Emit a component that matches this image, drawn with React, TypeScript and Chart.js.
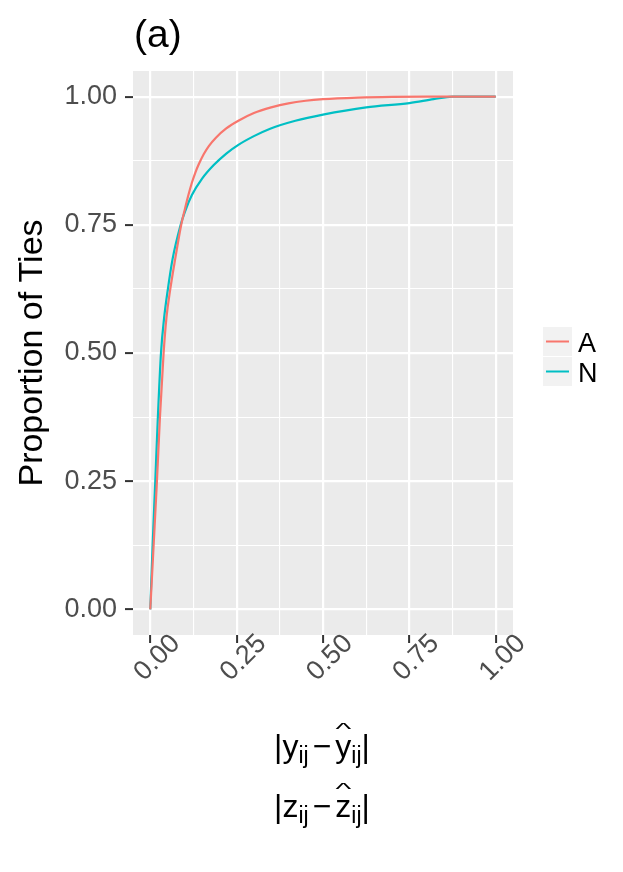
import React, { useEffect, useRef } from "react";
import { Chart, registerables } from "chart.js";

Chart.register(...registerables);

// ---- Data ----
const seriesNames = ["A", "N"];
const seriesColors = ["#F8766D", "#00BFC4"];

const xA = [0, 0.0097, 0.0193, 0.028, 0.0386, 0.047, 0.058, 0.0723, 0.0896, 0.1, 0.11, 0.12, 0.13, 0.14, 0.155, 0.17, 0.19, 0.22, 0.255, 0.3, 0.35, 0.4, 0.45, 0.5, 0.6, 0.7, 0.8, 1.0];
const yA = [0, 0.125, 0.25, 0.375, 0.5, 0.57, 0.625, 0.684, 0.75, 0.78, 0.807, 0.831, 0.851, 0.8675, 0.888, 0.904, 0.92, 0.938, 0.953, 0.968, 0.979, 0.987, 0.992, 0.995, 0.998, 0.9995, 1.0, 1.0];

const xN = [0, 0.0068, 0.0145, 0.022, 0.031, 0.04, 0.05, 0.0645, 0.088, 0.1, 0.1205, 0.15, 0.183, 0.22, 0.255, 0.3, 0.347, 0.42, 0.5, 0.625, 0.75, 0.82, 0.875, 1.0];
const yN = [0, 0.125, 0.25, 0.375, 0.5, 0.568, 0.62, 0.683, 0.75, 0.775, 0.808, 0.84, 0.866, 0.889, 0.906, 0.923, 0.9375, 0.953, 0.965, 0.979, 0.9875, 0.995, 1.0, 1.0];

const majorTickValues = [0, 0.25, 0.5, 0.75, 1];
const majorTickLabels = ["0.00", "0.25", "0.50", "0.75", "1.00"];
const gridValues = [0, 0.125, 0.25, 0.375, 0.5, 0.625, 0.75, 0.875, 1];

const plotTitle = "(a)";
const yTitle = "Proportion of Ties";

const FF = '"Liberation Sans", Arial, Helvetica, sans-serif';

const isMajor = (v: number | undefined) =>
  v !== undefined && majorTickValues.some((m) => Math.abs(m - v) < 1e-9);

type Piece = { t: string; size: number; dy?: number; hat?: boolean; padL?: number; padR?: number };

function drawMathLine(ctx: CanvasRenderingContext2D, pieces: Piece[], cx: number, baseline: number) {
  let total = 0;
  const widths = pieces.map((p) => {
    ctx.font = `${p.size}px ${FF}`;
    const w = ctx.measureText(p.t).width + (p.padL || 0) + (p.padR || 0);
    total += w;
    return w;
  });
  let x = cx - total / 2;
  pieces.forEach((p, i) => {
    ctx.font = `${p.size}px ${FF}`;
    ctx.textAlign = "left";
    ctx.textBaseline = "alphabetic";
    const gx = x + (p.padL || 0);
    ctx.fillText(p.t, gx, baseline + (p.dy || 0));
    if (p.hat) {
      const gw = ctx.measureText(p.t).width;
      ctx.save();
      ctx.translate(gx + gw / 2, baseline - 22.6);
      ctx.scale(1.05, 0.52);
      ctx.textAlign = "center";
      ctx.fillText("^", 0, 0);
      ctx.restore();
    }
    x += widths[i];
  });
}

const decorPlugin = {
  id: "decor",
  beforeDraw(chart: any) {
    const { ctx, chartArea } = chart;
    ctx.save();
    ctx.fillStyle = "#FFFFFF";
    ctx.fillRect(0, 0, chart.width, chart.height);
    ctx.fillStyle = "#EBEBEB";
    ctx.fillRect(chartArea.left, chartArea.top, chartArea.right - chartArea.left, chartArea.bottom - chartArea.top);
    ctx.restore();
  },
  afterDraw(chart: any) {
    const { ctx, chartArea } = chart;
    const xs = chart.scales.x;
    ctx.save();

    // plot title
    ctx.fillStyle = "#000000";
    ctx.font = `39px ${FF}`;
    ctx.textAlign = "left";
    ctx.textBaseline = "alphabetic";
    ctx.fillText(plotTitle, 134, 47);

    // y axis title
    ctx.save();
    ctx.translate(42, (chartArea.top + chartArea.bottom) / 2);
    ctx.rotate(-Math.PI / 2);
    ctx.font = `34px ${FF}`;
    ctx.textAlign = "center";
    ctx.fillText(yTitle, 0, 0);
    ctx.restore();

    // x tick labels (rotated 45°)
    ctx.fillStyle = "#4D4D4D";
    ctx.font = `27px ${FF}`;
    majorTickValues.forEach((v, i) => {
      const px = xs.getPixelForValue(v);
      ctx.save();
      ctx.translate(px + 7, chartArea.bottom + 23);
      ctx.rotate(-Math.PI / 4);
      ctx.textAlign = "center";
      ctx.textBaseline = "middle";
      ctx.fillText(majorTickLabels[i], 0, 0);
      ctx.restore();
    });

    // x axis title (two lines)
    ctx.fillStyle = "#000000";
    const cx = (chartArea.left + chartArea.right) / 2 - 1;
    const line = (v: string): Piece[] => [
      { t: "|", size: 32 },
      { t: v, size: 32 },
      { t: "ij", size: 23, dy: 6 },
      { t: "\u2212", size: 32, padL: 4, padR: 4 },
      { t: v, size: 32, hat: true },
      { t: "ij", size: 23, dy: 6 },
      { t: "|", size: 32 },
    ];
    drawMathLine(ctx, line("y"), cx, 757);
    drawMathLine(ctx, line("z"), cx, 817);

    // legend
    const keyX = 543, keyW = 29, keyH = 30, keyTop = 327;
    seriesNames.forEach((name, i) => {
      const ky = keyTop + i * keyH;
      ctx.fillStyle = "#F2F2F2";
      ctx.fillRect(keyX, ky, keyW, keyH - 1);
      ctx.strokeStyle = seriesColors[i];
      ctx.lineWidth = 2;
      ctx.beginPath();
      ctx.moveTo(keyX + 3, ky + keyH / 2 - 0.5);
      ctx.lineTo(keyX + keyW - 3, ky + keyH / 2 - 0.5);
      ctx.stroke();
      ctx.fillStyle = "#000000";
      ctx.font = `27px ${FF}`;
      ctx.textAlign = "left";
      ctx.textBaseline = "alphabetic";
      ctx.fillText(name, keyX + keyW + 6, ky + 25);
    });

    ctx.restore();
  },
};

export default function App() {
  const ref = useRef<HTMLCanvasElement | null>(null);

  useEffect(() => {
    if (!ref.current) return;
    const gridOpts = {
      color: "#FFFFFF",
      lineWidth: (c: any) => (isMajor(c.tick?.value) ? 2.2 : 1.1),
      drawTicks: true,
      tickLength: 8,
      tickWidth: 2,
      tickColor: (c: any) => (isMajor(c.tick?.value) ? "#333333" : "rgba(0,0,0,0)"),
    };
    const chart = new Chart(ref.current, {
      type: "line",
      data: {
        datasets: [
          {
            label: seriesNames[0],
            data: xA.map((x, i) => ({ x, y: yA[i] })),
            borderColor: seriesColors[0],
            backgroundColor: seriesColors[0],
            borderWidth: 2.2,
            pointRadius: 0,
            cubicInterpolationMode: "monotone",
            fill: false,
          },
          {
            label: seriesNames[1],
            data: xN.map((x, i) => ({ x, y: yN[i] })),
            borderColor: seriesColors[1],
            backgroundColor: seriesColors[1],
            borderWidth: 2.2,
            pointRadius: 0,
            cubicInterpolationMode: "monotone",
            fill: false,
          },
        ],
      },
      options: {
        animation: false,
        responsive: false,
        devicePixelRatio: 1,
        layout: { padding: { top: 71, right: 110, left: 0, bottom: 0 } },
        plugins: { legend: { display: false }, tooltip: { enabled: false } },
        scales: {
          x: {
            type: "linear",
            min: -0.05,
            max: 1.05,
            afterBuildTicks: (s: any) => {
              s.ticks = gridValues.map((v) => ({ value: v }));
            },
            afterFit: (s: any) => {
              s.height = 237;
            },
            ticks: { display: false },
            grid: gridOpts as any,
            border: { display: false },
          },
          y: {
            type: "linear",
            min: -0.05,
            max: 1.05,
            afterBuildTicks: (s: any) => {
              s.ticks = gridValues.map((v) => ({ value: v }));
            },
            afterFit: (s: any) => {
              s.width = 133;
            },
            ticks: {
              padding: 8,
              color: "#4D4D4D",
              font: { size: 27, family: FF },
              autoSkip: false,
              callback: (value: any) => {
                const i = majorTickValues.findIndex((m) => Math.abs(m - Number(value)) < 1e-9);
                return i >= 0 ? majorTickLabels[i] : "";
              },
            },
            grid: gridOpts as any,
            border: { display: false },
          },
        },
      },
      plugins: [decorPlugin],
    } as any);
    return () => chart.destroy();
  }, []);

  return (
    <div style={{ position: "absolute", left: 0, top: 0, width: 623, height: 872, background: "#fff" }}>
      <canvas ref={ref} width={623} height={872} style={{ display: "block" }} />
    </div>
  );
}
